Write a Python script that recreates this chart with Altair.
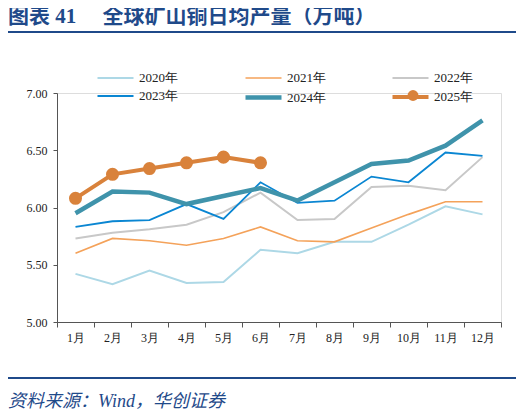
import altair as alt
import pandas as pd

months = ["1月", "2月", "3月", "4月", "5月", "6月", "7月", "8月", "9月", "10月", "11月", "12月"]
years = ["2020年", "2021年", "2022年", "2023年", "2024年", "2025年"]
colors = ["#ADD8E6", "#F4A25A", "#C8C8C8", "#0A86D2", "#3F93AB", "#D9823B"]
widths = [2, 1.6, 2, 1.8, 4.5, 4]

v2020 = [5.42, 5.33, 5.45, 5.34, 5.35, 5.63, 5.60, 5.70, 5.70, 5.85, 6.01, 5.94]
v2021 = [5.60, 5.73, 5.71, 5.67, 5.73, 5.83, 5.71, 5.70, 5.82, 5.94, 6.05, 6.05]
v2022 = [5.73, 5.78, 5.81, 5.85, 5.96, 6.13, 5.89, 5.90, 6.18, 6.19, 6.15, 6.44]
v2023 = [5.83, 5.88, 5.89, 6.03, 5.90, 6.22, 6.04, 6.06, 6.27, 6.22, 6.48, 6.45]
v2024 = [5.95, 6.14, 6.13, 6.03, 6.10, 6.17, 6.06, 6.22, 6.38, 6.41, 6.54, 6.76]
v2025 = [6.08, 6.29, 6.34, 6.39, 6.44, 6.39]

title_text = "图表 41\u3000\u00a0全球矿山铜日均产量（万吨）"
source_text = "资料来源：Wind，华创证券"

series = [v2020, v2021, v2022, v2023, v2024, v2025]
rows = []
for yr, vals in zip(years, series):
    for m, v in zip(months, vals):
        rows.append({"month": m, "year": yr, "value": v, "order": years.index(yr)})
df = pd.DataFrame(rows)
df25 = df[df["year"] == "2025年"].copy()
df25["dot"] = df25["year"]

serif = "'Liberation Serif', 'Times New Roman', serif"
mixed = "'Liberation Serif', 'Noto Sans CJK SC', serif"
navy = "#1F4A8A"
dot_color = colors[5]

x_enc = alt.X("month:N", sort=months, title=None,
              scale=alt.Scale(domain=months, paddingInner=0, paddingOuter=0),
              axis=alt.Axis(labelAngle=0, tickBand="extent", labelFont=serif, labelFontSize=12,
                            labelColor="#222222", domainColor="#555555", tickColor="#555555",
                            tickSize=5, labelPadding=5, grid=False))
y_enc = alt.Y("value:Q", title=None,
              scale=alt.Scale(domain=[5, 7], nice=False, zero=False),
              axis=alt.Axis(values=[5.0, 5.5, 6.0, 6.5, 7.0], format=".2f", labelFont=serif,
                            labelFontSize=12, labelColor="#222222", domainColor="#555555",
                            tickColor="#555555", tickSize=4, labelPadding=6, grid=False))

leg = alt.Legend(title=None, orient="none", legendX=46, legendY=-26,
                 columns=3, symbolType="M-1.8,0H1.8", symbolSize=400,
                 labelFont=serif, labelFontSize=13, labelColor="#222222",
                 columnPadding=58, rowPadding=-2, labelOffset=11,
                 direction="horizontal")

lines = alt.Chart(df).mark_line().encode(
    x=x_enc,
    y=y_enc,
    color=alt.Color("year:N", sort=years,
                    scale=alt.Scale(type="ordinal", domain=years, range=colors), legend=leg),
    strokeWidth=alt.StrokeWidth("year:N", sort=years,
                                scale=alt.Scale(type="ordinal", domain=years, range=widths),
                                legend=leg),
    order=alt.Order("order:Q"),
)

dots = alt.Chart(df25).mark_point(filled=True, opacity=1, size=170, color=dot_color).encode(
    x=alt.X("month:N", sort=months),
    y="value:Q",
    shape=alt.Shape("dot:N", scale=alt.Scale(domain=["2025年"], range=["circle"]),
                    legend=alt.Legend(title=None, orient="none", legendX=349.5, legendY=-4,
                                      symbolSize=120, symbolFillColor=dot_color,
                                      symbolStrokeColor=dot_color, symbolOpacity=1,
                                      labelOpacity=0, labelFontSize=1)),
)

deco = pd.DataFrame({"t": [title_text]})
title = alt.Chart(deco).mark_text(align="left", baseline="middle", font=mixed, fontSize=21,
                                   fontWeight="bold", color=navy).encode(
    text="t:N", x=alt.value(-49), y=alt.value(-76))
source = alt.Chart(pd.DataFrame({"t": [source_text]})).mark_text(
    align="left", baseline="middle", font=mixed, fontSize=18, fontStyle="italic", color=navy).encode(
    text="t:N", x=alt.value(-49), y=alt.value(309))
rule_top = alt.Chart(deco).mark_rule(color=navy, strokeWidth=2).encode(
    x=alt.value(-52), x2=alt.value(461), y=alt.value(-61))
rule_bot = alt.Chart(deco).mark_rule(color=navy, strokeWidth=2).encode(
    x=alt.value(-52), x2=alt.value(461), y=alt.value(285))

chart = alt.layer(lines, dots, title, source, rule_top, rule_bot).properties(
    width=444, height=229,
    autosize=alt.AutoSizeParams(type="none"),
    padding={"left": 49, "top": 85, "right": 15, "bottom": 88},
).configure_view(stroke=None).configure(background="white")

chart.save("out.html", embed_options={"renderer": "svg", "actions": False})
